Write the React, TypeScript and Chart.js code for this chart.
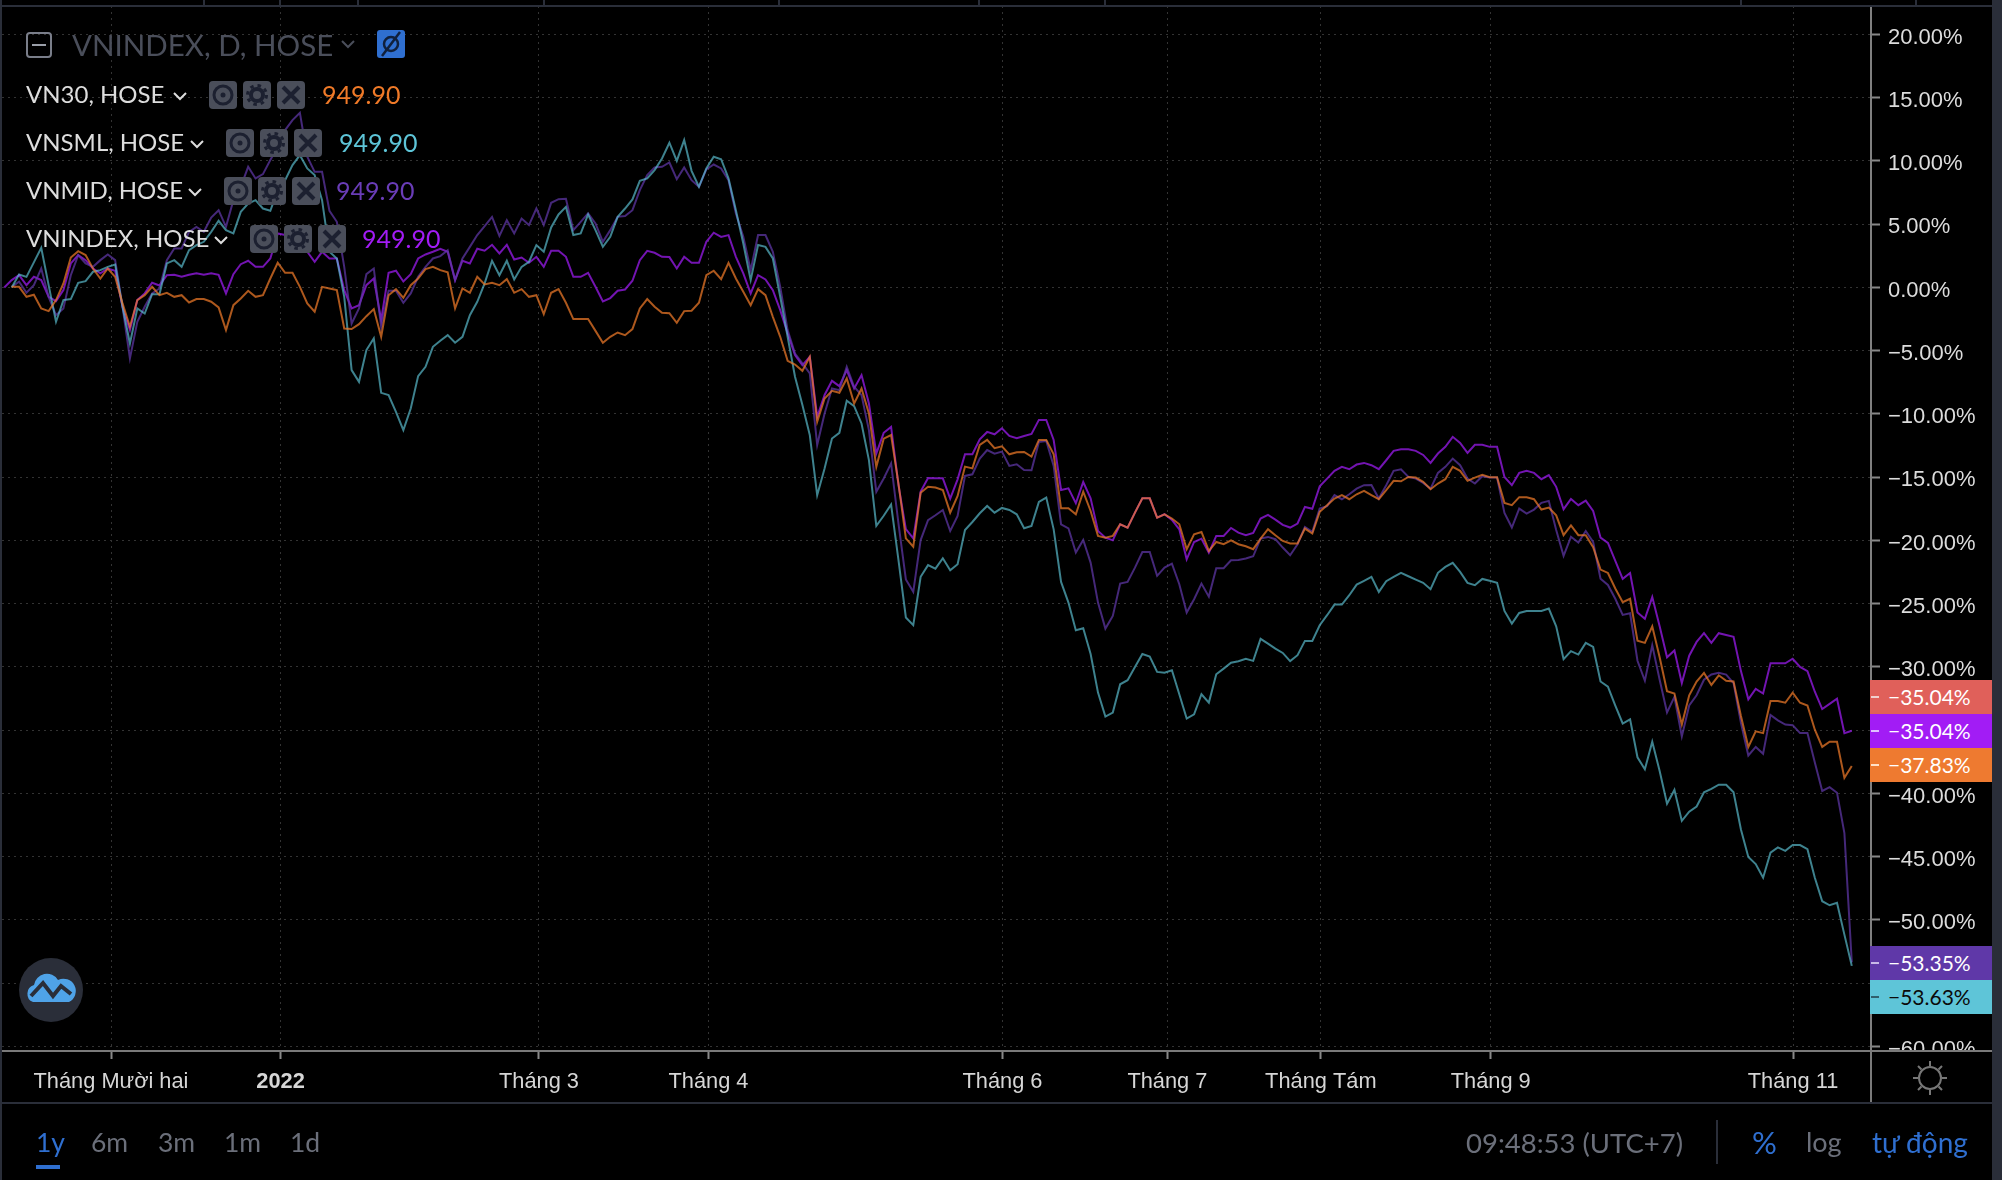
import React, { useEffect, useRef } from "react";
import { Chart, registerables } from "chart.js";

Chart.register(...registerables);

const vnindex = [
  0,0.58,0.97,0.18,0.84,0.58,-0.74,-1.08,-0.21,1.9,2.56,2.16,1.5,1.11,1.5,1.32,-1.53,-3.37,-1,-0.47,0.37,0.16,0.97,1,0.84,1,1.13,1,1.13,1,-0.47,1.05,1.84,2.11,1.63,1.63,2.29,4.27,4.14,4.14,3.74,2.82,
  2.03,2.82,2.29,2.29,-0.21,-1.66,-1.4,0.18,0.71,-2.58,1.16,1.32,0.47,1.05,2.29,2.61,2.82,3.06,2.82,0.58,2.11,1.9,3.06,2.9,3.37,2.69,3.37,2.21,2.37,1.95,2.42,1.63,2.9,2.9,2.42,0.84,0.84,1.16,0.05,-1.11,-0.84,-0.26,
  -0.16,0.53,2.16,2.9,2.74,2.42,2.4,1.5,2.42,1.95,1.95,3.61,4.33,4,4.14,2.42,1.11,-0.47,0.97,0.63,-0.21,-1.79,-3.62,-5.35,-6.14,-5.48,-10.22,-8.5,-7.38,-7.8,-6.53,-7.99,-6.93,-9.17,-13.13,-11.49,-11.02,-15.62,-19.1,-19.84,-16.13,-15.07,
  -15.09,-15.09,-16.69,-15.17,-13.19,-13.19,-12,-11.42,-11.61,-11.13,-11.74,-11.92,-11.74,-11.58,-10.47,-10.47,-12.06,-16.01,-15.88,-17.06,-15.38,-16.67,-19.25,-19.78,-19.99,-18.72,-18.99,-17.8,-16.67,-16.67,-18.2,-17.93,-18.38,-19.12,-21.49,-20.12,-19.86,-20.96,-19.64,-19.64,-19.01,-19.38,
  -19.59,-19.4,-18.27,-17.98,-18.35,-18.77,-18.98,-18.66,-17.35,-17.5,-15.71,-15.11,-14.5,-14.18,-14.37,-14,-13.87,-14.05,-14.37,-13.66,-12.92,-12.79,-12.79,-12.92,-13.24,-13.87,-13.13,-12.6,-11.81,-12.29,-13.08,-12.44,-12.44,-12.6,-12.6,-14.98,-15.63,-14.66,-14.5,-14.66,-15.16,-14.84,
  -15.76,-17.53,-16.72,-17.21,-16.85,-17.67,-19.77,-20.2,-21.62,-23.03,-22.57,-25.7,-26.19,-24.48,-26.79,-29.24,-28.7,-31.28,-29.11,-28.02,-27.33,-28.1,-27.33,-27.47,-27.61,-30.33,-32.56,-31.74,-32.1,-29.71,-29.71,-29.71,-29.35,-30,-30.33,-31.96,-33.33,-32.92,-32.51,-35.23,-35.04,
];

const vn30 = [
  null,0.05,0.05,-0.74,-0.58,-1.66,-1.87,-1,0.32,2.37,2.87,2.56,1.5,0.71,1.5,0.84,-1.26,-3.11,-1,-0.61,0.05,-0.61,-0.42,-0.74,-0.61,-1.19,-0.92,-0.92,-1.13,-1.58,-3.37,-1.4,-0.87,-0.26,-0.74,-0.61,0.71,1.95,1.16,1.16,0.05,-1.26,
  -1.92,0.05,-0.08,-0.21,-3.24,-3.29,-2.9,-2.27,-1.71,-3.9,-0.61,-0.13,-0.82,0.18,0.71,1.45,1.63,1.37,1.19,-1.66,-0.08,-0.42,0.84,0.24,0.37,0.18,0.66,-0.42,-0.13,-0.74,-0.61,-2.11,-0.42,-0.13,-1.21,-2.5,-2.5,-2.5,-3.43,-4.37,-3.9,-3.56,
  -3.77,-3.29,-1.66,-0.92,-1.53,-2,-2.03,-2.79,-1.87,-1.84,-1.21,0.97,1.32,0.66,1.95,0.71,-0.34,-1.4,-0.13,-0.61,-2.32,-3.9,-5.8,-6.09,-6.59,-5.48,-10.62,-8.78,-8.17,-8.33,-7.2,-9.17,-7.99,-9.96,-14.18,-11.95,-11.67,-15.5,-19.84,-20.5,-16.23,-15.76,
  -15.82,-16.01,-17.8,-16.48,-14.16,-14.3,-12.45,-12.05,-12.71,-12.56,-13.19,-13.03,-13,-13.37,-12.05,-12.05,-13.19,-17.46,-17.46,-17.93,-16.14,-17.67,-19.64,-19.78,-19.64,-18.72,-18.99,-17.8,-16.67,-16.67,-18.2,-17.93,-18.27,-18.72,-20.7,-19.51,-19.33,-20.83,-20.12,-20.3,-19.99,-20.3,
  -20.46,-20.69,-19.85,-19.11,-19.59,-20.04,-20.24,-20.24,-19.06,-19.45,-17.74,-17.21,-16.69,-16.42,-16.74,-16.35,-16.08,-16.42,-16.74,-16.03,-15.29,-15.32,-14.98,-15.03,-15.37,-15.95,-15.5,-15.16,-14.18,-14.5,-15.29,-15.03,-14.81,-15,-15,-17.03,-17.21,-16.58,-16.58,-16.74,-17.56,-17.4,
  -18.02,-19.58,-18.81,-19.58,-19.58,-20.53,-22.3,-22.57,-23.8,-24.88,-24.61,-27.93,-28.1,-26.79,-29.24,-31.91,-32.1,-34.55,-32.24,-31.15,-30.47,-31.42,-30.66,-31.09,-31.15,-33.87,-36.32,-35.09,-35.23,-32.7,-32.7,-32.83,-32.04,-32.83,-33.05,-34.96,-36.32,-35.91,-35.91,-38.77,-37.83,
];

const vnsml = [
  null,0,1.03,0.84,1.98,3.14,0.18,-2.71,-1,-0.92,0.37,0.5,1.24,1.37,1.63,1.82,-1.53,-4.43,-1.66,-2.06,-0.53,-0.53,1.9,2.16,1.63,2.95,3.35,3.61,4.4,5.27,4.53,4.27,5.98,6.64,6.9,6.24,6.06,7.69,8.48,9.67,10.46,9.41,
  8.88,6.9,2.82,2.29,-0.74,-6.53,-7.46,-4.95,-4.03,-8.33,-8.51,-9.83,-11.28,-9.57,-7.01,-6.27,-4.69,-4.21,-3.77,-4.37,-3.9,-2.19,-1.13,0.32,2.11,0.97,2.11,0.63,1.63,2.03,3.35,2.82,4.74,5.77,6.37,4.14,4.27,5.77,4.53,3.21,4,5.58,
  6.24,6.96,8.43,8.62,9.28,10.2,11.44,10.01,11.65,9.22,7.96,9.41,10.33,10.14,8.62,6.11,3.48,0.58,3.35,3.21,2.29,-0.74,-3.9,-7.06,-9.3,-11.67,-16.42,-14.31,-11.94,-11.49,-8.96,-9.38,-10.75,-13.65,-18.84,-18.05,-17.16,-21.55,-26.09,-26.69,-22.87,-21.95,
  -22.23,-21.41,-22.36,-21.88,-19.17,-18.54,-17.85,-17.27,-17.8,-17.43,-17.59,-17.93,-19.04,-18.85,-16.96,-16.61,-19.12,-23.28,-24.91,-27.1,-26.94,-28.98,-32.03,-33.92,-33.61,-31.37,-31.05,-30,-28.98,-29.18,-30.39,-30.45,-30.26,-32.16,-34.08,-33.74,-32.16,-32.82,-30.58,-30.13,-29.66,-29.55,
  -29.36,-29.52,-27.78,-28.15,-28.55,-28.89,-29.54,-29.07,-27.94,-27.94,-26.7,-25.91,-25.07,-25.07,-24.33,-23.49,-23.19,-22.88,-24.07,-23.22,-22.88,-22.56,-22.83,-23.09,-23.35,-23.85,-22.56,-22.09,-21.77,-22.48,-23.35,-23.54,-23.04,-23.19,-23.35,-25.57,-26.57,-25.73,-25.57,-25.57,-25.57,-25.38,
  -26.79,-29.38,-28.75,-29.02,-28.1,-28.42,-31.15,-31.55,-33.05,-34.47,-34.14,-37.14,-38.09,-35.91,-38.22,-40.81,-39.72,-42.17,-41.44,-41.03,-39.91,-39.64,-39.31,-39.31,-39.91,-42.85,-45.03,-45.58,-46.66,-44.68,-44.27,-44.54,-44.08,-44.08,-44.41,-46.66,-48.52,-48.84,-48.65,-51.16,-53.63,
];

const vnmid = [
  null,0.05,0.45,-0.42,0.18,1.5,-0.74,-2.19,-1.66,0.97,2.56,1.9,1.63,2.16,2.61,2.16,-1.53,-5.61,-2.71,-1.53,-0.47,-0.08,2.16,3.08,3.08,4.4,4.79,4.4,5.53,6.11,4.79,6.9,7.96,9.54,8.62,8.96,10.07,11.12,12.44,13.23,13.81,10.33,
  9.14,9.14,6.06,5.19,1.63,-2.85,-1.66,1.05,1.5,-3.11,-0.26,-0.26,-1.21,-0.47,0.84,1.63,2.29,2.48,2.95,0.58,2.29,3.21,4.14,4.85,5.58,4.08,5.32,4.27,5.45,4.93,6.24,4.93,6.69,6.98,7.01,4.53,5.19,5.85,5.06,3.61,4.53,5.58,
  5.64,6.11,7.69,8.88,9.49,9.54,9.88,8.56,9.49,8.48,7.96,9.33,9.72,9.41,8.48,5.85,4,1.37,4.14,4.14,2.82,0.05,-3.37,-5.22,-6,-6.8,-12.46,-9.96,-7.98,-8.12,-6.27,-7.85,-8.51,-11.28,-16.15,-15.1,-13.91,-18.66,-23.08,-24.06,-19.97,-18.39,
  -18.01,-17.59,-19.25,-18.06,-14.9,-14.77,-13.53,-12.85,-13.14,-12.98,-14.11,-13.98,-14.43,-14.45,-12.21,-12.13,-14.11,-18.72,-19.04,-20.96,-19.96,-21.75,-24.91,-26.97,-25.97,-23.41,-23.28,-22.15,-20.91,-20.91,-22.8,-22.15,-21.83,-23.46,-25.7,-24.65,-23.41,-24.44,-22.2,-22.2,-21.57,-21.54,
  -21.43,-21.25,-19.85,-19.72,-19.9,-20.56,-21.17,-20.3,-18.93,-19.32,-17.48,-17.29,-16.42,-16.74,-16.35,-15.9,-15.63,-15.61,-16.69,-15.63,-14.5,-14.37,-14.98,-15.11,-15.45,-15.9,-14.66,-14.18,-13.53,-14.05,-15.11,-15.5,-14.92,-15.03,-15.03,-17.82,-18.98,-17.48,-17.87,-17.56,-17.03,-16.87,
  -19.17,-21.21,-19.71,-20.17,-19.25,-20.12,-23.03,-23.52,-24.61,-25.89,-25.76,-29.51,-31.09,-28.29,-31.01,-33.6,-32.37,-35.5,-33.05,-32.24,-31.01,-30.6,-30.47,-30.6,-31.28,-34.41,-37,-36.32,-36.86,-33.79,-34.22,-34.55,-34.6,-35.23,-35.23,-37.55,-39.8,-39.5,-39.94,-43.13,-53.35,
];

const yTicks = [20, 15, 10, 5, 0, -5, -10, -15, -20, -25, -30, -35, -40, -45, -50, -55, -60];
const xTickIndex = [14.44, 37.39, 72.35, 95.29, 135.07, 157.39, 178.15, 201.14, 242.05];
const xTickLabels = ["Tháng Mười hai", "2022", "Tháng 3", "Tháng 4", "Tháng 6", "Tháng 7", "Tháng Tám", "Tháng 9", "Tháng 11"];

const legendRows = [
  { name: "VN30, HOSE", value: "949.90", color: "#f07a28", y: 95, chev: 180, box: 209, val: 322 },
  { name: "VNSML, HOSE", value: "949.90", color: "#5ec5d8", y: 143, chev: 197, box: 226, val: 339 },
  { name: "VNMID, HOSE", value: "949.90", color: "#6a3db8", y: 191, chev: 195, box: 224, val: 336 },
  { name: "VNINDEX, HOSE", value: "949.90", color: "#a21cf5", y: 239, chev: 221, box: 250, val: 362 },
];

const lastLabels = [
  { text: "−35.04%", bg: "#e0605a", fg: "#ffffff", top: 680, tick: "#f0d0ce" },
  { text: "−35.04%", bg: "#a21cf5", fg: "#ffffff", top: 714, tick: "#e0c0ff" },
  { text: "−37.83%", bg: "#ee7a30", fg: "#ffffff", top: 748, tick: "#ffe0c8" },
  { text: "−53.35%", bg: "#5f38a8", fg: "#ffffff", top: 946, tick: "#c8b8e8" },
  { text: "−53.63%", bg: "#5ec5d8", fg: "#0b0b0b", top: 980, tick: "#30606c" },
];

const ranges = [
  { t: "1y", x: 36, c: "#2f6fd0" },
  { t: "6m", x: 91, c: "#6b6f7a" },
  { t: "3m", x: 158, c: "#6b6f7a" },
  { t: "1m", x: 224, c: "#6b6f7a" },
  { t: "1d", x: 290, c: "#6b6f7a" },
];
const topTicks = [203, 279, 357, 543, 778, 978, 1104, 1740, 1915];

const UI_FONT = "Lato, 'Noto Sans', sans-serif";
const AXIS_FONT = "'Liberation Sans', Arial, sans-serif";
const BORDER = "#2a2e39";

const rect = (left: number, top: number, width: number, height: number, background: string): React.CSSProperties => ({
  position: "absolute", left, top, width, height, background,
});

function label(left: number, centerY: number, size: number, color: string): React.CSSProperties {
  return {
    position: "absolute", left, top: centerY - size, height: size * 2, lineHeight: `${size * 2}px`,
    fontFamily: UI_FONT, fontSize: size, color, whiteSpace: "nowrap",
  };
}

function Chevron({ x, y, color }: { x: number; y: number; color: string }) {
  return (
    <svg style={{ position: "absolute", left: x, top: y - 6 }} width="16" height="12">
      <polyline points="2,3 8,9 14,3" fill="none" stroke={color} strokeWidth="2" />
    </svg>
  );
}

function IconBox({ x, y, kind }: { x: number; y: number; kind: "eye" | "gear" | "x" }) {
  const ink = "#1c2030";
  return (
    <svg style={{ position: "absolute", left: x, top: y - 14 }} width="28" height="28">
      <rect width="28" height="28" rx="4" fill="#4a4e5a" />
      {kind === "eye" && (
        <g fill="none" stroke={ink}>
          <circle cx="14" cy="14" r="9" strokeWidth="3" />
          <circle cx="14" cy="14" r="2.5" fill={ink} strokeWidth="0" />
        </g>
      )}
      {kind === "gear" && (
        <g fill="none" stroke={ink}>
          <circle cx="14" cy="14" r="6" strokeWidth="4" />
          <circle cx="14" cy="14" r="9.5" strokeWidth="3" strokeDasharray="3.5 4" />
        </g>
      )}
      {kind === "x" && <path d="M6 6 L22 22 M22 6 L6 22" stroke={ink} strokeWidth="4" />}
    </svg>
  );
}

export default function App() {
  const ref = useRef<HTMLCanvasElement>(null);

  useEffect(() => {
    const canvas = ref.current;
    if (!canvas) return;
    const toPoints = (s: (number | null)[]) => s.map((y, x) => ({ x, y }));
    const line = (name: string, s: (number | null)[], color: string) => ({
      label: name,
      data: toPoints(s),
      borderColor: color,
      backgroundColor: color,
      borderWidth: 2,
      pointRadius: 0,
      tension: 0,
      fill: false,
    });
    const chart = new Chart(canvas, {
      type: "line",
      data: {
        datasets: [
          line("VN30", vn30, "rgba(240,122,40,0.72)"),
          line("VNSML", vnsml, "rgba(94,197,216,0.66)"),
          line("VNMID", vnmid, "rgba(95,56,168,0.72)"),
          line("VNINDEX", vnindex, "rgba(160,28,245,0.72)"),
        ],
      } as any,
      options: {
        responsive: false,
        animation: false,
        devicePixelRatio: 1,
        events: [],
        layout: { autoPadding: false, padding: { left: 2, top: 6, right: 0, bottom: 0 } },
        plugins: { legend: { display: false }, tooltip: { enabled: false } },
        scales: {
          x: {
            type: "linear",
            min: -0.31,
            max: 252.6,
            afterBuildTicks: (s: any) => { s.ticks = xTickIndex.map((value) => ({ value })); },
            afterFit: (s: any) => { s.height = 129; s.paddingLeft = 0; s.paddingRight = 0; },
            ticks: {
              autoSkip: false,
              maxRotation: 0,
              padding: 10,
              color: "#d6d6d6",
              font: (c: any) => ({ family: AXIS_FONT, size: 21.8, weight: xTickLabels[c.index] === "2022" ? "bold" : "normal" }),
              callback: (_v: any, i: number) => xTickLabels[i],
            },
            grid: { color: "#333333", lineWidth: 1, tickColor: "#888888", tickLength: 8, tickWidth: 2, tickBorderDash: [] },
            border: { display: false, dash: [2, 4] },
          },
          y: {
            type: "linear",
            position: "right",
            min: -60.36,
            max: 22.25,
            afterBuildTicks: (s: any) => { s.ticks = yTicks.map((value) => ({ value })); },
            afterFit: (s: any) => { s.width = 131; s.paddingTop = 0; s.paddingBottom = 0; },
            ticks: {
              autoSkip: false,
              padding: 8,
              labelOffset: 3,
              color: "#dcdcdc",
              font: { family: AXIS_FONT, size: 22 },
              callback: (v: any) => `${v < 0 ? "−" : ""}${Math.abs(v).toFixed(2)}%`,
            },
            grid: { color: "#333333", lineWidth: 1, tickColor: "#888888", tickLength: 9, tickWidth: 2, tickBorderDash: [] },
            border: { display: true, color: "#808080", width: 2, dash: [2, 4] },
          },
        },
      },
    } as any);
    return () => chart.destroy();
  }, []);

  return (
    <div style={{ position: "fixed", left: 0, top: 0, width: 2002, height: 1180, background: "#000", overflow: "hidden" }}>
      <canvas ref={ref} width={2002} height={1180} style={{ position: "absolute", left: 0, top: 0, width: 2002, height: 1180 }} />

      {/* frame */}
      <div style={rect(0, 5, 2002, 2, BORDER)} />
      {topTicks.map((x) => <div key={x} style={rect(x, 0, 2, 6, BORDER)} />)}
      <div style={rect(0, 0, 2, 1180, BORDER)} />
      <div style={rect(1992, 0, 10, 1180, BORDER)} />
      <div style={rect(1873, 1052, 119, 50, "#000")} />
      <div style={rect(2, 1050, 1990, 2, "#7a7a7a")} />
      <div style={rect(1870, 1052, 2, 50, "#7a7a7a")} />
      <div style={rect(2, 1102, 1990, 2, BORDER)} />

      {/* legend */}
      <svg style={{ position: "absolute", left: 26, top: 32 }} width="26" height="26">
        <rect x="1" y="1" width="24" height="24" rx="3" fill="none" stroke="#7a7e8a" strokeWidth="2" />
        <path d="M6 13 H20" stroke="#9a9ea8" strokeWidth="2" />
      </svg>
      <div style={label(72, 44, 29.5, "#4a4e5a")}>VNINDEX, D, HOSE</div>
      <Chevron x={340} y={44} color="#4a4e5a" />
      <svg style={{ position: "absolute", left: 377, top: 30 }} width="28" height="28">
        <rect width="28" height="28" rx="3" fill="#2f6fd0" />
        <circle cx="14" cy="14" r="7" fill="none" stroke="#10203c" strokeWidth="2.5" />
        <path d="M5 26 L23 2" stroke="#10203c" strokeWidth="2.5" />
      </svg>
      {legendRows.map((r) => (
        <React.Fragment key={r.name}>
          <div style={label(26, r.y - 1, 24, "#dddddd")}>{r.name}</div>
          <Chevron x={r.chev - 8} y={r.y + 1} color="#dddddd" />
          <IconBox x={r.box} y={r.y} kind="eye" />
          <IconBox x={r.box + 34} y={r.y} kind="gear" />
          <IconBox x={r.box + 68} y={r.y} kind="x" />
          <div style={label(r.val, r.y - 1, 25, r.color)}>{r.value}</div>
        </React.Fragment>
      ))}

      {/* last value tags */}
      {lastLabels.map((l, i) => (
        <div key={i} style={{
          position: "absolute", left: 1870, top: l.top, width: 122, height: 34, background: l.bg, color: l.fg,
          fontFamily: UI_FONT, fontSize: 21, lineHeight: "34px", paddingLeft: 18, boxSizing: "border-box", whiteSpace: "nowrap",
        }}>
          <div style={rect(1, 16, 8, 2, l.tick)} />
          {l.text}
        </div>
      ))}

      {/* logo */}
      <svg style={{ position: "absolute", left: 19, top: 958 }} width="64" height="64">
        <circle cx="32" cy="32" r="32" fill={BORDER} />
        <path d="M14 44 a9 9 0 0 1 1 -17 a13 13 0 0 1 24 -5 a10 10 0 0 1 11 22 Z" fill="#4fa3e8" />
        <polyline points="12,38 24,25 34,38 42,28 52,36" fill="none" stroke={BORDER} strokeWidth="4" />
      </svg>

      {/* sun */}
      <svg style={{ position: "absolute", left: 1912, top: 1060 }} width="36" height="36">
        <circle cx="18" cy="18" r="11" fill="none" stroke="#777" strokeWidth="2" />
        <path d="M18 1 V6 M18 30 V35 M1 18 H6 M30 18 H35 M6 6 L9.5 9.5 M30 6 L26.5 9.5 M6 30 L9.5 26.5 M30 30 L26.5 26.5" stroke="#777" strokeWidth="2" />
      </svg>

      {/* toolbar */}
      {ranges.map((r) => <div key={r.t} style={label(r.x, 1142, 26.5, r.c)}>{r.t}</div>)}
      <div style={rect(36, 1165, 24, 4, "#2f6fd0")} />
      <div style={label(1466, 1142, 27.5, "#6b6f7a")}>09:48:53 (UTC+7)</div>
      <div style={rect(1716, 1120, 2, 44, BORDER)} />
      <div style={label(1752, 1142, 31, "#2f6fd0")}>%</div>
      <div style={label(1806, 1142, 27, "#6b6f7a")}>log</div>
      <div style={label(1872, 1142, 28, "#2f6fd0")}>tự động</div>
    </div>
  );
}
